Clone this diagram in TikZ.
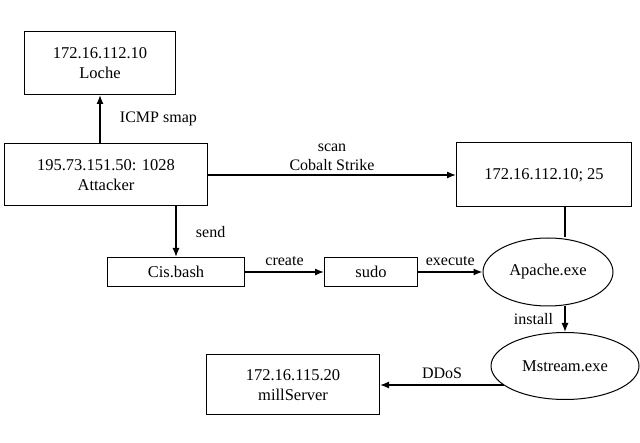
\documentclass[tikz,border=0pt]{standalone}
\usepackage{fontspec}
\setmainfont{Liberation Serif}
\usetikzlibrary{shapes.geometric}
\tikzset{box node/.style={rectangle,draw,line width=1pt,align=center,font=\fontsize{16.5}{20}\selectfont},
ell node/.style={ellipse,draw,line width=1pt,inner sep=0pt,font=\fontsize{16.5}{20}\selectfont},
lab/.style={font=\fontsize{16}{19}\selectfont},
arr/.style={draw,line width=1.3pt,-{Latex[length=9pt,width=7pt]}},
}
\usetikzlibrary{arrows.meta}

\begin{document}
\begin{tikzpicture}[x=1pt,y=-1pt]
\useasboundingbox (0,0) rectangle (640,443);

\node[box node,minimum width=151pt,minimum height=63pt] (loche) at (100,63) {172.16.112.10\\Loche};
\node[box node,minimum width=203pt,minimum height=62pt] (att) at (106,175) {195.73.151.50: 1028\\Attacker};
\node[box node,minimum width=175pt,minimum height=64pt] (tgt) at (544,175) {172.16.112.10; 25};
\node[box node,minimum width=137pt,minimum height=29pt] (cis) at (176,272) {Cis.bash};
\node[box node,minimum width=93pt,minimum height=29pt] (sudo) at (371,272) {sudo};
\node[ell node,minimum width=130pt,minimum height=68pt] (apache) at (548,272) {Apache.exe};
\node[ell node,minimum width=148pt,minimum height=67pt] (mstr) at (565,366) {Mstream.exe};
\node[box node,minimum width=173pt,minimum height=60pt] (mill) at (293,385) {172.16.115.20\\millServer};
\coordinate (ddos) at (504,385);

%% connectors
\path[arr] (att.north -| loche) -- node[lab,right,xshift=16pt] {ICMP smap} (loche.south);
\path[arr] (att.east) -- node[lab,above,align=center] {scan\\Cobalt Strike} (tgt.west);
\path[arr] (att.south -| cis) -- node[lab,right,xshift=16pt] {send} (cis.north);
\path[arr] (cis.east) -- node[lab,above,yshift=2pt] {create} (sudo.west);
\path[arr] (sudo.east) -- node[lab,above,yshift=2pt] {execute} (apache.west);
\path[draw,line width=1.3pt] (tgt.south -| mstr) -- (apache.north -| mstr);
\path[arr] (apache.south -| mstr) -- node[lab,left,xshift=-8pt] {install} (mstr.north);
\path[arr] (ddos) -- node[lab,above,yshift=2pt] {DDoS} (mill.east);
\end{tikzpicture}
\end{document}
